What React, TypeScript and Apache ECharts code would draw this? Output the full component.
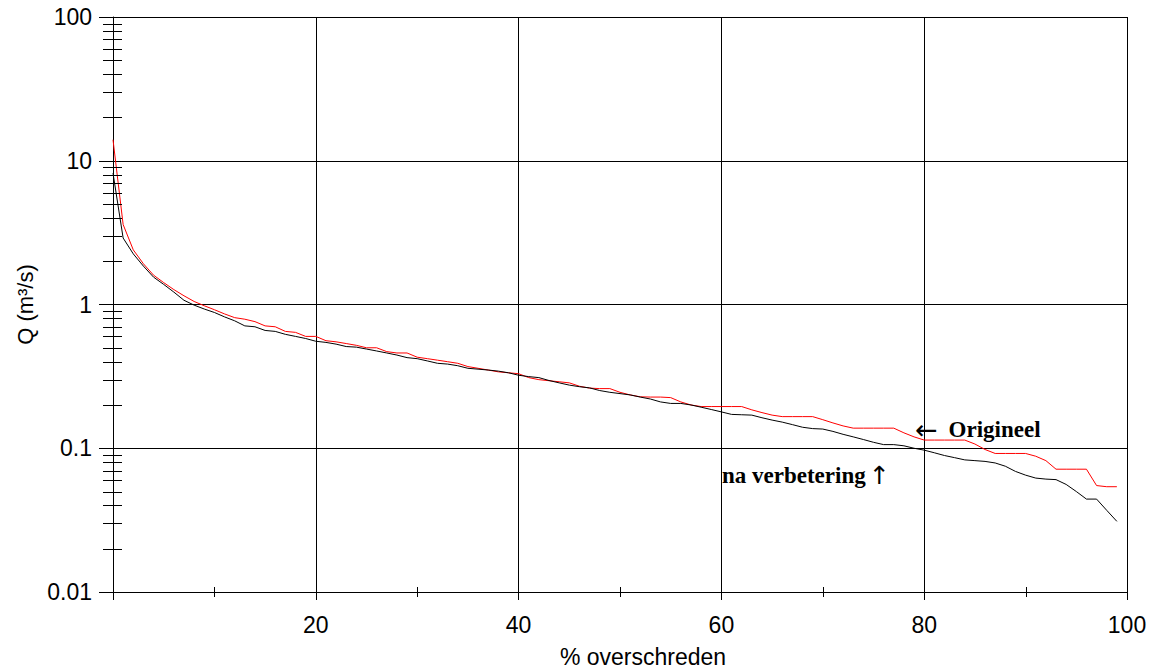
import React, { useEffect, useRef } from "react";
import * as echarts from "echarts";

// % of time exceeded (sample positions)
const percent = [
  0, 1, 2, 3, 4, 5, 6, 7, 8, 9, 10, 11, 12, 13, 14, 15, 16, 17, 18, 19,
  20, 21, 22, 23, 24, 25, 26, 27, 28, 29, 30, 31, 32, 33, 34, 35, 36, 37, 38, 39,
  40, 41, 42, 43, 44, 45, 46, 47, 48, 49, 50, 51, 52, 53, 54, 55, 56, 57, 58, 59,
  60, 61, 62, 63, 64, 65, 66, 67, 68, 69, 70, 71, 72, 73, 74, 75, 76, 77, 78, 79,
  80, 81, 82, 83, 84, 85, 86, 87, 88, 89, 90, 91, 92, 93, 94, 95, 96, 97, 98, 99,
];

// Q (m3/s) original (red)
const origineel = [
  14, 3.6, 2.4, 1.92, 1.6, 1.42, 1.27, 1.15, 1.05, 0.98,
  0.92, 0.86, 0.81, 0.79, 0.76, 0.71, 0.7, 0.65, 0.64, 0.6,
  0.6, 0.56, 0.55, 0.535, 0.52, 0.5, 0.5, 0.47, 0.46, 0.46,
  0.43, 0.42, 0.41, 0.4, 0.39, 0.37, 0.36, 0.35, 0.34, 0.335,
  0.33, 0.31, 0.3, 0.295, 0.29, 0.285, 0.27, 0.262, 0.26, 0.26,
  0.245, 0.235, 0.228, 0.227, 0.227, 0.225, 0.21, 0.2, 0.195, 0.195,
  0.195, 0.195, 0.195, 0.185, 0.177, 0.17, 0.166, 0.166, 0.166, 0.166,
  0.158, 0.15, 0.143, 0.138, 0.138, 0.138, 0.138, 0.138, 0.128, 0.12,
  0.114, 0.114, 0.114, 0.114, 0.114, 0.107, 0.098, 0.092, 0.092, 0.092,
  0.092, 0.088, 0.082, 0.0715, 0.0715, 0.0715, 0.0715, 0.055, 0.054, 0.054,
];

// Q (m3/s) after improvement (black)
const naVerbetering = [
  8.2, 2.9, 2.25, 1.85, 1.55, 1.38, 1.22, 1.07, 0.99, 0.93,
  0.88, 0.82, 0.77, 0.71, 0.7, 0.66, 0.65, 0.62, 0.6, 0.58,
  0.555, 0.545, 0.53, 0.51, 0.505, 0.49, 0.475, 0.46, 0.445, 0.427,
  0.42, 0.405, 0.39, 0.385, 0.375, 0.36, 0.355, 0.35, 0.344, 0.335,
  0.322, 0.315, 0.31, 0.296, 0.285, 0.275, 0.268, 0.263, 0.252, 0.245,
  0.24, 0.235, 0.227, 0.22, 0.21, 0.205, 0.205, 0.2, 0.193, 0.186,
  0.179, 0.172, 0.171, 0.17, 0.163, 0.157, 0.152, 0.146, 0.14, 0.137,
  0.136, 0.131, 0.125, 0.12, 0.115, 0.11, 0.106, 0.106, 0.104, 0.1,
  0.097, 0.093, 0.089, 0.086, 0.083, 0.082, 0.081, 0.079, 0.075, 0.069,
  0.065, 0.062, 0.061, 0.0605, 0.056, 0.05, 0.0443, 0.0443, 0.037, 0.031,
];

// minor tick values
const yMinorTicks = [
  0.02, 0.03, 0.04, 0.05, 0.06, 0.07, 0.08, 0.09,
  0.2, 0.3, 0.4, 0.5, 0.6, 0.7, 0.8, 0.9,
  2, 3, 4, 5, 6, 7, 8, 9,
  20, 30, 40, 50, 60, 70, 80, 90,
];
const xMinorTicks = [10, 30, 50, 70, 90];

const SANS = "'Liberation Sans', Arial, sans-serif";
const SERIF = "'Liberation Serif', 'Times New Roman', serif";
const ARROW = "'DejaVu Sans', 'DejaVu Serif', sans-serif";

export default function App() {
  const ref = useRef<HTMLDivElement>(null);

  useEffect(() => {
    if (!ref.current) return;
    const chart = echarts.init(ref.current, undefined, { renderer: "svg" });
    const snap = (v: number) => Math.round(v) + 0.5;

    const option: any = {
      animation: false,
      backgroundColor: "#ffffff",
      grid: {
        left: 113,
        right: 31,
        top: 17,
        bottom: 76,
        containLabel: false,
        outerBoundsMode: "none",
      },
      xAxis: {
        type: "value",
        min: 0,
        max: 100,
        interval: 20,
        name: "% overschreden",
        nameLocation: "middle",
        nameGap: 53,
        nameTextStyle: {
          fontFamily: SANS,
          fontSize: 23,
          color: "#000",
          padding: [0, 0, 0, 46],
        },
        axisLine: { show: true, lineStyle: { color: "#000", width: 1 } },
        axisTick: { show: true, length: 8, lineStyle: { color: "#000" } },
        axisLabel: {
          fontFamily: SANS,
          fontSize: 23,
          color: "#000",
          margin: 21,
          formatter: (v: number) => (v === 0 ? "" : String(v)),
        },
        splitLine: { show: true, lineStyle: { color: "#000", width: 1 } },
      },
      yAxis: {
        type: "log",
        logBase: 10,
        min: 0.01,
        max: 100,
        name: "Q (m³/s)",
        nameLocation: "middle",
        nameGap: 62,
        nameTextStyle: { fontFamily: SANS, fontSize: 22, color: "#000" },
        axisLine: { show: true, lineStyle: { color: "#000", width: 1 } },
        axisTick: { show: true, length: 14, lineStyle: { color: "#000" } },
        axisLabel: {
          fontFamily: SANS,
          fontSize: 23,
          color: "#000",
          margin: 21,
          formatter: (v: number) => {
            if (v < 0.05) return "0.01";
            if (v < 0.5) return "0.1";
            return String(Math.round(v));
          },
        },
        splitLine: { show: true, lineStyle: { color: "#000", width: 1 } },
      },
      graphic: [
        {
          type: "text",
          left: 915,
          top: 416,
          style: {
            text: "{a|←}{b|Origineel}",
            fill: "#000",
            rich: {
              a: { font: `27px ${ARROW}`, fill: "#000", verticalAlign: "middle" },
              b: {
                font: `bold 23px ${SERIF}`,
                fill: "#000",
                padding: [0, 0, 0, 11],
                verticalAlign: "middle",
              },
            },
          },
        },
        {
          type: "text",
          left: 722,
          top: 463,
          style: {
            text: "{b|na verbetering} {a|↑}",
            fill: "#000",
            rich: {
              a: { font: `25px ${ARROW}`, fill: "#000", verticalAlign: "middle" },
              b: { font: `bold 23px ${SERIF}`, fill: "#000", verticalAlign: "middle" },
            },
          },
        },
      ],
      series: [
        {
          name: "Origineel",
          type: "line",
          data: percent.map((p, i) => [p, origineel[i]]),
          showSymbol: false,
          symbol: "none",
          lineStyle: { color: "#ff0000", width: 1 },
          z: 3,
        },
        {
          name: "na verbetering",
          type: "line",
          data: percent.map((p, i) => [p, naVerbetering[i]]),
          showSymbol: false,
          symbol: "none",
          lineStyle: { color: "#000000", width: 1 },
          z: 4,
        },
        {
          name: "yMinor",
          type: "custom",
          silent: true,
          clip: false,
          z: 5,
          encode: { x: 0, y: 1 },
          data: yMinorTicks.map((v) => [0, v]),
          renderItem: (params: any, api: any) => {
            const pt = api.coord([0, api.value(1)]);
            const y = snap(pt[1]);
            return {
              type: "line",
              shape: { x1: pt[0] - 10, y1: y, x2: pt[0] + 9, y2: y },
              style: { stroke: "#000", lineWidth: 1 },
            };
          },
        },
        {
          name: "xMinor",
          type: "custom",
          silent: true,
          clip: false,
          z: 5,
          encode: { x: 0, y: 1 },
          data: xMinorTicks.map((v) => [v, 0.01]),
          renderItem: (params: any, api: any) => {
            const pt = api.coord([api.value(0), 0.01]);
            const x = snap(pt[0]);
            return {
              type: "line",
              shape: { x1: x, y1: pt[1] - 5, x2: x, y2: pt[1] + 5 },
              style: { stroke: "#000", lineWidth: 1 },
            };
          },
        },
      ],
    };

    chart.setOption(option);
    return () => chart.dispose();
  }, []);

  return (
    <div
      ref={ref}
      style={{ position: "fixed", left: 0, top: 0, width: 1158, height: 668, background: "#fff" }}
    />
  );
}
